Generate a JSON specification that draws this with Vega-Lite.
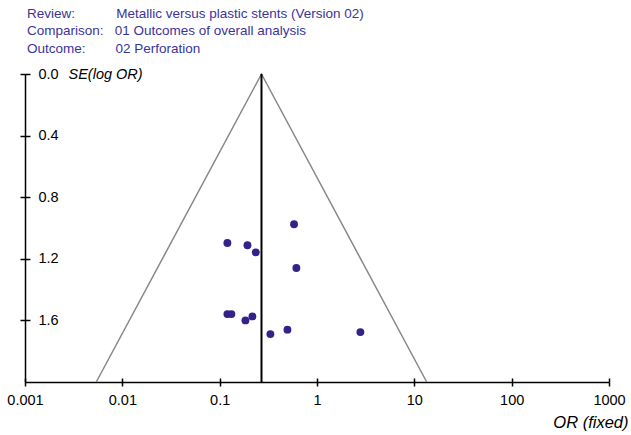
{
  "$schema": "https://vega.github.io/schema/vega-lite/v6.json",
  "width": 584,
  "height": 308,
  "autosize": {"type": "none"},
  "padding": {"left": 25, "top": 74, "right": 22, "bottom": 53},
  "background": "white",
  "title": {
    "text": [
      "Review:\u00a0\u00a0\u00a0\u00a0\u00a0\u00a0\u00a0\u00a0\u00a0\u00a0\u00a0Metallic versus plastic stents (Version 02)",
      "Comparison:\u00a0\u00a0\u00a001 Outcomes of overall analysis",
      "Outcome:\u00a0\u00a0\u00a0\u00a0\u00a0\u00a0\u00a0\u00a002 Perforation"
    ],
    "anchor": "start",
    "frame": "group",
    "font": "Liberation Sans",
    "fontSize": 13.5,
    "fontWeight": "normal",
    "color": "#3b339c",
    "lineHeight": 17.5,
    "offset": 11,
    "dx": 2
  },
  "datasets": {
    "funnel": [
      {"order": 1, "or": 0.0054, "se": 2.0},
      {"order": 2, "or": 0.269, "se": 0.0},
      {"order": 3, "or": 13.4, "se": 2.0}
    ],
    "pooled": [
      {"or": 0.269, "se_top": 0.0, "se_bottom": 2.0}
    ],
    "studies": [
      {"or": 0.581, "se": 0.976},
      {"or": 0.120, "se": 1.097},
      {"or": 0.193, "se": 1.112},
      {"or": 0.235, "se": 1.158},
      {"or": 0.614, "se": 1.260},
      {"or": 0.120, "se": 1.559},
      {"or": 0.132, "se": 1.559},
      {"or": 0.217, "se": 1.574},
      {"or": 0.184, "se": 1.600},
      {"or": 0.332, "se": 1.689},
      {"or": 0.497, "se": 1.660},
      {"or": 2.79, "se": 1.676}
    ]
  },
  "layer": [
    {
      "data": {"name": "funnel"},
      "mark": {"type": "line", "color": "#888888", "strokeWidth": 1.5},
      "encoding": {
        "x": {
          "field": "or", "type": "quantitative",
          "scale": {"type": "log", "domain": [0.001, 1000], "nice": false},
          "axis": {
            "orient": "bottom",
            "values": [0.001, 0.01, 0.1, 1, 10, 100, 1000],
            "format": "~g",
            "grid": false,
            "domainColor": "black", "domainWidth": 1.5,
            "tickColor": "black", "tickWidth": 1.5, "tickSize": 4,
            "labelFont": "Liberation Sans", "labelFontSize": 14.5, "labelColor": "black",
            "labelPadding": 7, "labelFlush": false,
            "title": "OR (fixed)",
            "titleFont": "Liberation Sans", "titleFontSize": 16.5, "titleFontStyle": "italic",
            "titleFontWeight": "normal", "titleColor": "black",
            "titleX": 603, "titleY": 40, "titleAlign": "right", "titleBaseline": "middle", "titleAnchor": null
          }
        },
        "y": {
          "field": "se", "type": "quantitative",
          "scale": {"domain": [0, 2], "reverse": true, "nice": false, "zero": false},
          "axis": {
            "orient": "left",
            "values": [0, 0.4, 0.8, 1.2, 1.6],
            "format": ".1f",
            "grid": false,
            "domainColor": "black", "domainWidth": 1.5,
            "tickColor": "black", "tickWidth": 1.5, "tickSize": 5,
            "labelFont": "Liberation Sans", "labelFontSize": 14.5, "labelColor": "black",
            "labelAlign": "left", "labelBaseline": "middle", "labelPadding": -18,
            "title": "SE(log OR)",
            "titleFont": "Liberation Sans", "titleFontSize": 14.5, "titleFontStyle": "italic",
            "titleFontWeight": "normal", "titleColor": "black",
            "titleAngle": 0, "titleX": 43, "titleY": 0, "titleAlign": "left", "titleBaseline": "middle"
          }
        },
        "order": {"field": "order", "type": "quantitative"}
      }
    },
    {
      "data": {"name": "pooled"},
      "mark": {"type": "rule", "color": "black", "strokeWidth": 2},
      "encoding": {
        "x": {
          "field": "or", "type": "quantitative",
          "axis": {
            "orient": "bottom",
            "values": [0.001, 0.01, 0.1, 1, 10, 100, 1000],
            "grid": false, "domain": false, "labels": false, "title": null,
            "tickColor": "black", "tickWidth": 1.5, "tickSize": -4
          }
        },
        "y": {
          "field": "se_top", "type": "quantitative",
          "axis": {
            "orient": "left",
            "values": [0, 0.4, 0.8, 1.2, 1.6],
            "grid": false, "domain": false, "labels": false, "title": null,
            "tickColor": "black", "tickWidth": 1.5, "tickSize": -5
          }
        },
        "y2": {"field": "se_bottom"}
      }
    },
    {
      "data": {"name": "studies"},
      "mark": {"type": "circle", "color": "#32238a", "opacity": 1, "size": 62},
      "encoding": {
        "x": {"field": "or", "type": "quantitative", "axis": null},
        "y": {"field": "se", "type": "quantitative", "axis": null}
      }
    }
  ],
  "resolve": {"axis": {"x": "independent", "y": "independent"}},
  "config": {"view": {"stroke": null}}
}
